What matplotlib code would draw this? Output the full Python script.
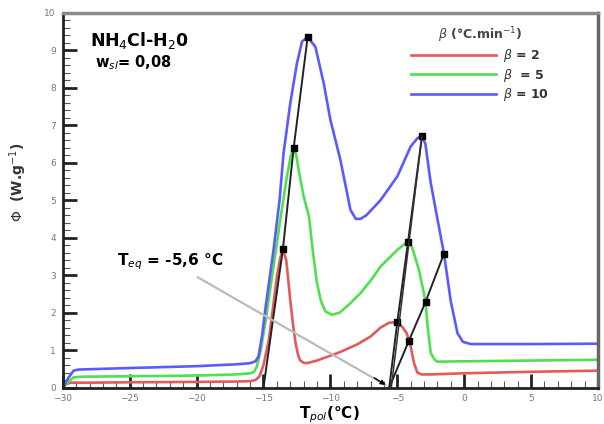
import numpy as np
import matplotlib.pyplot as plt
from matplotlib.ticker import MultipleLocator

# courbes DSC NH4Cl-H2O
x_b2 = [-30, -29.7, -29.4, -28, -25, -20, -17, -16, -15.6, -15.3, -15.0, -14.6, -14.3, -14.0,
        -13.75, -13.55, -13.3, -13.0, -12.8, -12.6, -12.4, -12.25, -12.0, -11.75, -11.0, -10.0,
        -9.25, -8.0, -7.0, -6.25, -5.6, -5.13, -4.65, -4.3, -4.0, -3.75, -3.5, -3.2, -2.5, 0, 5, 10]
y_b2 = [0, 0.1, 0.13, 0.13, 0.14, 0.15, 0.16, 0.17, 0.2, 0.3, 0.6, 1.27, 2.1, 2.96,
        3.45, 3.69, 3.4, 2.34, 1.7, 1.18, 0.85, 0.72, 0.66, 0.65, 0.72, 0.85,
        0.95, 1.15, 1.36, 1.6, 1.73, 1.74, 1.63, 1.45, 1.1, 0.65, 0.4, 0.35, 0.35, 0.38, 0.42, 0.45]

x_b5 = [-30, -29.6, -29.2, -28.5, -25, -20, -17, -16, -15.7, -15.5, -15.2, -14.87, -14.25, -13.75,
        -13.25, -12.95, -12.75, -12.55, -12.37, -12.0, -11.6, -11.3, -11.0, -10.7, -10.37, -9.87,
        -9.3, -8.5, -7.75, -7.0, -6.25, -5.0, -4.5, -4.18, -3.9, -3.38, -2.88, -2.76, -2.5, -2.2,
        -2.0, 0, 5, 10]
y_b5 = [0, 0.15, 0.27, 0.29, 0.3, 0.32, 0.35, 0.38, 0.42, 0.56, 1.0, 1.72, 3.23, 4.47,
        5.63, 6.2, 6.38, 6.2, 5.8, 5.1, 4.56, 3.6, 2.78, 2.3, 2.03, 1.94,
        2.0, 2.25, 2.52, 2.85, 3.23, 3.67, 3.82, 3.87, 3.75, 3.14, 2.29, 1.72, 0.92, 0.74,
        0.69, 0.7, 0.72, 0.74]

x_b10 = [-30, -29.6, -29.2, -28.8, -25, -20, -17, -16, -15.6, -15.37, -15.1, -14.87, -14.25, -13.8,
         -13.5, -13.0, -12.5, -12.12, -11.7, -11.12, -10.5, -10.0, -9.25, -8.5, -8.1, -7.75,
         -7.3, -6.25, -5.0, -4.0, -3.5, -3.18, -2.9, -2.5, -2.0, -1.51, -1.0, -0.5, -0.1, 0.5, 5, 10]
y_b10 = [0, 0.25, 0.45, 0.48, 0.52, 0.57, 0.62, 0.65, 0.7, 0.83, 1.4, 2.07, 3.67, 5.0,
         6.25, 7.58, 8.65, 9.23, 9.35, 9.09, 8.12, 7.14, 6.07, 4.74, 4.5, 4.5,
         4.6, 5.0, 5.63, 6.43, 6.65, 6.72, 6.5, 5.46, 4.5, 3.57, 2.3, 1.45, 1.22, 1.16, 1.16, 1.17]

# constructions (tangentes) et points caracteristiques
x_tan1 = [-15.0, -13.55, -12.75, -11.7]
y_tan1 = [0, 3.69, 6.38, 9.35]
x_tan2 = [-5.6, -5.0, -4.2, -3.15]
y_tan2 = [0, 1.74, 3.88, 6.72]
x_tan3 = [-5.6, -4.13, -2.88, -1.51]
y_tan3 = [0, 1.25, 2.29, 3.57]

teq = -5.6
teq_txt = (-20.1, 2.98)

labels = [r'$\beta$ = 2', r'$\beta$  = 5', r'$\beta$ = 10']
couleurs = ['#e25a5a', '#4ee04e', '#5a5aff']

fig = plt.figure(figsize=(6.04, 4.24), dpi=100)
ax = fig.add_axes([0.104, 0.086, 0.886, 0.884])

ax.plot(x_b2, y_b2, color=couleurs[0], lw=1.9, label=labels[0])
ax.plot(x_b5, y_b5, color=couleurs[1], lw=1.9, label=labels[1])
ax.plot(x_b10, y_b10, color=couleurs[2], lw=1.9, label=labels[2])

for xs, ys in [(x_tan1, y_tan1), (x_tan2, y_tan2), (x_tan3, y_tan3)]:
    ax.plot(xs, ys, color='#222222', lw=1.4)
    ax.plot(xs[1:], ys[1:], 's', color='black', ms=4.5)
ax.plot([-5.45, x_tan2[-1]], [0, y_tan2[-1]], color='#333333', lw=1.1)

# fleche Teq
ax.annotate('', xy=(teq - 0.1, 0.03), xytext=teq_txt,
            arrowprops=dict(arrowstyle='-', color='#bbbbbb', lw=1.6))
ax.annotate('', xy=(teq - 0.1, 0.03), xytext=(teq - 1.3, 0.3),
            arrowprops=dict(arrowstyle='-|>', color='black', lw=1.0, mutation_scale=7))
ax.text(-25.95, 3.35, r'T$_{eq}$ = -5,6 °C', fontsize=11, fontweight='bold', va='center')

ax.text(-28.0, 9.27, r'NH$_4$Cl-H$_2$0', fontsize=12.5, fontweight='bold', va='center')
ax.text(-27.6, 8.66, r'w$_{sl}$= 0,08', fontsize=10.5, fontweight='bold', va='center')

leg = ax.legend(loc='upper right', bbox_to_anchor=(0.925, 0.99), frameon=False,
                title=r'$\beta$ (°C.min$^{-1}$)', fontsize=9, handlelength=6.8,
                labelspacing=0.2, handletextpad=0.6, borderpad=0.2)
leg.get_title().set_fontsize(9)
leg.get_title().set_fontweight('bold')
leg.get_title().set_color('#444444')
for t in leg.get_texts():
    t.set_fontweight('bold')
    t.set_color('#333333')

ax.set_xlim(-30, 10)
ax.set_ylim(0, 10)
ax.xaxis.set_major_locator(MultipleLocator(5))
ax.xaxis.set_minor_locator(MultipleLocator(1))
ax.yaxis.set_major_locator(MultipleLocator(1))
ax.yaxis.set_minor_locator(MultipleLocator(0.2))
ax.tick_params(which='major', direction='in', length=10, width=2, labelsize=6.5,
               labelcolor='#777777', color='#222222', top=False, right=False, pad=5)
ax.tick_params(which='minor', direction='in', length=5, width=0.8, color='#555555',
               top=False, right=False)

for s in ['left', 'bottom']:
    ax.spines[s].set_color('#222222')
    ax.spines[s].set_linewidth(2)
ax.spines['top'].set_color('#8a8a8a')
ax.spines['top'].set_linewidth(2.5)
ax.spines['right'].set_color('#666666')
ax.spines['right'].set_linewidth(2.5)

fig.text(0.03, 0.57, r'$\Phi$  (W.g$^{-1}$)', rotation=90, fontsize=10,
         fontweight='bold', ha='center', va='center', color='#333333')
fig.text(0.545, 0.022, r'T$_{pol}$(°C)', fontsize=11, fontweight='bold',
         ha='center', va='center')

plt.savefig('out.png', dpi=100)
